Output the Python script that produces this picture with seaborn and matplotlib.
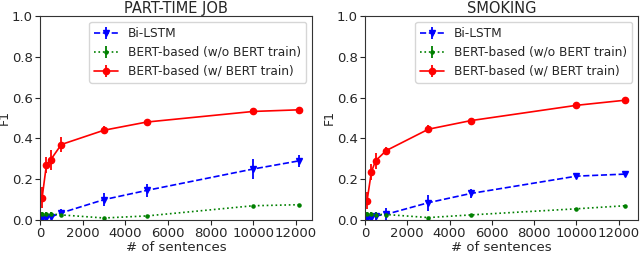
import seaborn as sns
import matplotlib.pyplot as plt
import numpy as np

sns.set_style("white")
plt.rcParams['font.family'] = ['DejaVu Sans']

x_job = [100, 300, 500, 1000, 3000, 5000, 10000, 12150]
x_smk = [100, 300, 500, 1000, 3000, 5000, 10000, 12300]

# part-time job
job_lstm = [0.005, 0.01, 0.015, 0.035, 0.10, 0.145, 0.25, 0.29]
job_lstm_err = [0.005, 0.01, 0.01, 0.02, 0.03, 0.03, 0.05, 0.03]
job_wo = [0.03, 0.03, 0.03, 0.025, 0.01, 0.02, 0.07, 0.075]
job_wo_err = [0.01, 0.01, 0.01, 0.01, 0.005, 0.005, 0.005, 0.005]
job_w = [0.11, 0.27, 0.295, 0.37, 0.44, 0.48, 0.532, 0.54]
job_w_err = [0.05, 0.04, 0.05, 0.035, 0.02, 0.01, 0.01, 0.01]

# smoking
smk_lstm = [0.005, 0.01, 0.02, 0.028, 0.085, 0.13, 0.215, 0.225]
smk_lstm_err = [0.005, 0.01, 0.02, 0.03, 0.04, 0.02, 0.01, 0.01]
smk_wo = [0.03, 0.028, 0.027, 0.027, 0.012, 0.025, 0.055, 0.07]
smk_wo_err = [0.01, 0.01, 0.01, 0.01, 0.005, 0.005, 0.005, 0.005]
smk_w = [0.095, 0.235, 0.29, 0.34, 0.445, 0.487, 0.562, 0.587]
smk_w_err = [0.04, 0.04, 0.04, 0.02, 0.02, 0.01, 0.01, 0.005]

xticks = [0, 2000, 4000, 6000, 8000, 10000, 12000]
yticks = [0.0, 0.2, 0.4, 0.6, 0.8, 1.0]

fig = plt.figure(figsize=(6.4, 2.61), dpi=100)
ax1 = fig.add_axes([0.0625, 0.157, 0.425, 0.782])
ax2 = fig.add_axes([0.5703, 0.157, 0.4266, 0.782])

def draw(ax, x, lstm, lstm_e, wo, wo_e, w, w_e, title):
    ax.errorbar(x, lstm, yerr=lstm_e, fmt='v--', color='blue', ms=4.5, lw=1.2,
                elinewidth=1.3, label='Bi-LSTM')
    ax.errorbar(x, wo, yerr=wo_e, fmt='.:', color='green', ms=4.5, lw=1.2,
                elinewidth=1.3, label='BERT-based (w/o BERT train)')
    ax.errorbar(x, w, yerr=w_e, fmt='o-', color='red', ms=4.5, lw=1.2,
                elinewidth=1.3, label='BERT-based (w/ BERT train)')
    ax.set_xlim(left=0)
    ax.set_ylim(0, 1.0)
    ax.set_xticks(xticks)
    ax.set_yticks(yticks)
    ax.set_title(title, fontsize=10.5, pad=2)
    ax.set_xlabel('# of sentences', fontsize=9.5, labelpad=1)
    ax.set_ylabel('F1', fontsize=9)
    ax.yaxis.set_label_coords(-0.108, 0.5)
    ax.tick_params(labelsize=9.5, length=3.5, left=True, bottom=True, pad=1.5)
    for s in ax.spines.values():
        s.set_color('#333333')
        s.set_linewidth(0.8)
    ax.legend(loc='upper right', fontsize=8.7, handlelength=2, borderaxespad=0.5)

draw(ax1, x_job, job_lstm, job_lstm_err, job_wo, job_wo_err, job_w, job_w_err, 'PART-TIME JOB')
draw(ax2, x_smk, smk_lstm, smk_lstm_err, smk_wo, smk_wo_err, smk_w, smk_w_err, 'SMOKING')

fig.savefig('out.png', dpi=100)
